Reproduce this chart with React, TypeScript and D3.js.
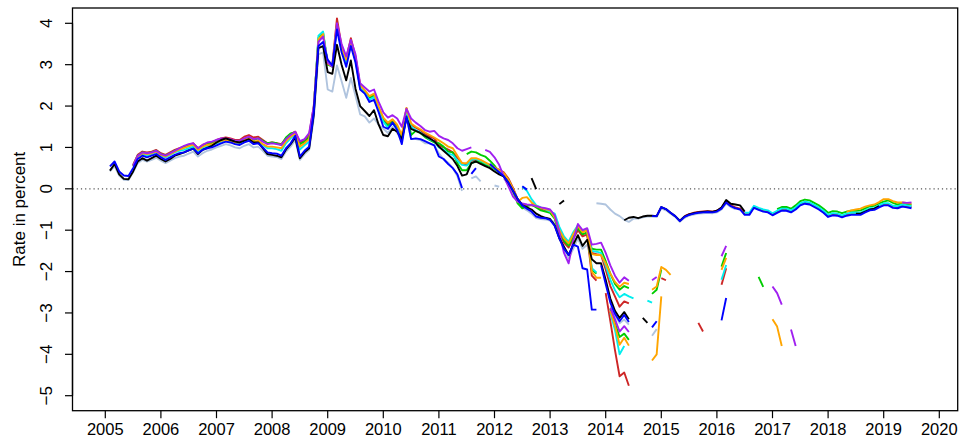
import React from "react";
import * as d3 from "d3";

type Seg = [string, number[]];

const yearTicks = d3.range(2005, 2021);
const rateTicks = [-5, -4, -3, -2, -1, 0, 1, 2, 3, 4];
const yTitle = "Rate in percent";

const blackSegs: Seg[] = [
  ["2005-02", [
    0.44,0.60,0.35,0.24,0.23,0.42,0.66,0.74,0.68,0.74,0.80,
    0.72,0.66,0.72,0.80,0.84,0.88,0.93,0.97,0.84,0.94,0.99,1.04,
    1.12,1.18,1.22,1.18,1.14,1.12,1.16,1.20,1.12,1.12,0.98,0.84,
    0.82,0.80,0.76,0.95,1.08,1.24,0.74,0.88,0.98,1.80,3.40,3.45,
    2.82,2.78,3.48,3.00,2.62,3.10,2.42,2.00,1.88,1.76,1.90,1.55,
    1.30,1.27,1.45,1.38,1.20,1.70,1.45,1.40,1.35,1.28,1.22,1.15,
    1.02,0.92,0.82,0.72,0.55,0.32,0.35,0.62,0.66,0.60,0.55,0.50,
    0.42,0.35,0.30,0.15,-0.05,-0.25,-0.40,-0.45,-0.50,-0.60,-0.66,-0.70,
    -0.73,-0.88,-1.20,-1.40,-1.60,-1.35,-1.12,-1.38,-1.23,-1.70,-1.80,-1.80,
    -2.20,-2.65,-2.95,-3.12,-2.98,-3.15]],
  ["2012-09", [0.26, -0.01]],
  ["2013-03", [-0.37, -0.28]],
  ["2014-09", [-3.12, -3.24]],
  ["2014-05", [
    -0.76,-0.70,-0.68,-0.71,-0.67,-0.65,-0.65,-0.66,
    -0.44,-0.49,-0.58,-0.66,-0.77,-0.67,-0.62,-0.59,-0.57,-0.56,-0.55,-0.56,
    -0.53,-0.45,-0.27,-0.36,-0.38,-0.40,-0.55]],
  ["2018-07", [-0.60,-0.60,-0.55,-0.50,-0.48,-0.42]],
];

const blueSegs: Seg[] = [
  ["2005-02", [
    0.54,0.66,0.42,0.32,0.31,0.50,0.72,0.80,0.76,0.80,0.84,
    0.76,0.70,0.76,0.82,0.86,0.88,0.93,0.97,0.86,0.94,0.98,1.00,
    1.05,1.10,1.14,1.12,1.08,1.06,1.12,1.16,1.08,1.10,1.00,0.88,
    0.86,0.85,0.80,0.98,1.10,1.28,0.78,0.92,1.02,1.85,3.45,3.55,
    3.12,2.98,3.85,3.30,2.95,3.45,3.05,2.40,2.30,2.10,2.15,1.85,
    1.50,1.45,1.60,1.42,1.08,1.75,1.20,1.22,1.20,1.15,1.10,1.05,
    0.78,0.72,0.60,0.50,0.35,0.02]],
  ["2011-08", [0.36, 0.50]],
  ["2011-12", [
    0.60,0.50,0.40,0.30,0.15,-0.05,-0.25,-0.40,-0.48,-0.55,-0.67,-0.70,
    -0.71,-0.75,-0.90,-1.20,-1.45,-1.60,-1.35,-1.40,-1.92,-1.95,-2.92,-2.92]],
  ["2012-07", [0.06, -0.02]],
  ["2013-12", [-1.85,-2.30,-2.75,-3.02,-3.20,-3.05,-3.22]],
  ["2014-11", [-3.35, -3.20]],
  ["2016-02", [-3.18, -2.64]],
  ["2014-11", [
    -0.66,-0.66,
    -0.44,-0.49,-0.58,-0.66,-0.78,-0.68,-0.63,-0.60,-0.58,-0.57,-0.56,-0.57,
    -0.55,-0.48,-0.33,-0.42,-0.47,-0.50,-0.63,-0.63,-0.46,-0.51,-0.55,-0.57,
    -0.64,-0.58,-0.53,-0.53,-0.57,-0.50,-0.40,-0.36,-0.38,-0.44,-0.50,-0.58,
    -0.68,-0.64,-0.65,-0.69,-0.65,-0.63,-0.63,-0.63,-0.57,-0.52,-0.51,-0.45,
    -0.40,-0.40,-0.46,-0.47,-0.43,-0.45,-0.47]],
];

const steelSegs: Seg[] = [
  ["2005-02", [
    0.42,0.55,0.32,0.22,0.21,0.40,0.62,0.70,0.66,0.70,0.75,
    0.68,0.62,0.68,0.74,0.78,0.80,0.85,0.90,0.78,0.86,0.92,0.95,
    1.00,1.04,1.08,1.05,1.00,0.98,1.04,1.08,1.00,1.02,0.92,0.80,
    0.78,0.77,0.72,0.90,1.02,1.18,0.70,0.84,0.94,1.70,3.25,3.30,
    2.40,2.35,2.98,2.60,2.20,2.68,2.25,1.80,1.75,1.60,1.70,1.55,
    1.45,1.35,1.50,1.35,1.15,1.75,1.20,1.20,1.18,1.10,1.10,1.05,
    0.86,0.72,0.63,0.50,0.30,-0.05]],
  ["2011-08", [0.25, 0.30, 0.18]],
  ["2012-01", [0.08, 0.05]],
  ["2012-03", [
    0.25,0.10,-0.10,-0.30,-0.45,-0.52,-0.60,-0.71,-0.73,-0.74,
    -0.77,-0.80,-1.15,-1.45,-1.68,-1.45,-1.20,-1.45,-1.35,-1.75]],
  ["2014-02", [-2.84,-3.05,-3.25,-3.16,-3.28]],
  ["2014-11", [-3.55, -3.39]],
  ["2013-11", [
    -0.35,-0.36,-0.38,-0.50,-0.60,-0.66,-0.75,-0.80,
    -0.72,-0.72,-0.69,-0.67,-0.67,-0.68,
    -0.47,-0.52,-0.60,-0.68,-0.80,-0.70,-0.65,-0.62,-0.60,-0.59,-0.58,-0.59,
    -0.57,-0.50,-0.36,-0.44,-0.49]],
];

const redSegs: Seg[] = [
  ["2005-07", [
    0.58,0.82,0.90,0.88,0.90,0.94,
    0.86,0.82,0.88,0.94,0.98,1.02,1.06,1.10,0.98,1.06,1.10,1.12,
    1.18,1.22,1.24,1.22,1.18,1.18,1.26,1.30,1.24,1.26,1.18,1.10,
    1.12,1.10,1.08,1.22,1.32,1.38,1.12,1.18,1.30,2.00,3.60,3.72,
    3.05,3.00,4.12,3.45,3.15,3.64,3.20,2.50,2.36,2.22,2.28,1.96,
    1.70,1.58,1.66,1.48,1.25,1.95,1.55,1.48,1.42,1.32,1.27,1.22,
    1.05,1.00,0.95,0.88,0.75,0.62,0.58,0.68,0.70,0.68,0.62,0.58,
    0.52,0.46,0.40,0.25,0.02,-0.25,-0.38,-0.40,-0.40,-0.42,-0.48,-0.52,
    -0.55,-0.70,-1.05,-1.30,-1.42,-1.20,-1.00,-1.15,-1.10,-1.55,-1.58,-1.60,
    -1.95,-2.35,-2.60,-2.85,-2.72,-2.77]],
  ["2013-09", [-1.10, -2.10, -2.22]],
  ["2014-01", [-2.52,-3.20,-3.90,-4.53,-4.44,-4.76]],
  ["2015-01", [-2.16, -2.21]],
  ["2015-09", [-3.24, -3.45]],
  ["2016-02", [-2.32, -1.92]],
  ["2015-06", [
    -0.66,-0.61,-0.58,-0.56,-0.55,-0.54,-0.55,
    -0.53,-0.46,-0.30,-0.40,-0.45,-0.48,-0.61,-0.61,-0.44,-0.49,-0.53,-0.55,
    -0.62,-0.56,-0.51,-0.51,-0.55,-0.48,-0.38,-0.34,-0.36,-0.42,-0.48,-0.56,
    -0.66,-0.62,-0.63,-0.66,-0.62,-0.60,-0.60,-0.60,-0.54,-0.49,-0.48,-0.42,
    -0.37,-0.37,-0.43,-0.44,-0.40,-0.42,-0.44]],
];

const greenSegs: Seg[] = [
  ["2005-07", [
    0.56,0.80,0.88,0.86,0.88,0.92,
    0.84,0.80,0.86,0.92,0.96,1.00,1.04,1.08,0.96,1.04,1.08,1.10,
    1.14,1.18,1.20,1.18,1.14,1.14,1.20,1.24,1.18,1.22,1.16,1.10,
    1.12,1.10,1.06,1.24,1.34,1.36,1.08,1.14,1.24,1.95,3.65,3.78,
    3.00,2.95,3.95,3.40,3.10,3.55,3.15,2.45,2.35,2.20,2.25,1.90,
    1.65,1.52,1.62,1.45,1.20,1.90,1.30,1.40,1.35,1.25,1.18,1.12,
    1.10,1.02,0.90,0.88,0.62,0.45,0.45,0.62,0.66,0.64,0.58,0.55,
    0.48,0.40,0.33,0.18,-0.05,-0.35,-0.47,-0.42,-0.38,-0.45,-0.52,-0.55,
    -0.58,-0.72,-1.03,-1.25,-1.37,-1.15,-0.95,-1.10,-1.05,-1.45,-1.47,-1.47,
    -1.75,-2.05,-2.30,-2.44,-2.35,-2.40]],
  ["2011-07", [0.84,0.90,0.88,0.82,0.78,0.68,0.56,0.40,0.30]],
  ["2013-09", [-1.05, -1.95, -2.05]],
  ["2014-02", [-2.90,-3.25,-3.58,-3.50,-3.65]],
  ["2014-11", [-2.54, -2.44, -1.95]],
  ["2016-02", [-1.88, -1.55]],
  ["2016-10", [-2.13, -2.37]],
  ["2017-02", [
    -0.49,-0.44,-0.44,-0.48,-0.40,-0.30,-0.26,-0.28,-0.34,-0.40,-0.48,
    -0.58,-0.54,-0.55,-0.59,-0.55,-0.53,-0.53,-0.52,-0.47,-0.42,-0.41,-0.35,
    -0.31,-0.28,-0.34,-0.38,-0.35,-0.37,-0.39]],
];

const cyanSegs: Seg[] = [
  ["2005-07", [
    0.54,0.76,0.84,0.80,0.84,0.88,
    0.80,0.76,0.82,0.88,0.92,0.94,0.98,1.02,0.90,0.98,1.02,1.06,
    1.10,1.14,1.18,1.14,1.10,1.10,1.16,1.20,1.12,1.14,1.06,0.98,
    0.98,0.96,0.92,1.10,1.22,1.32,0.95,1.05,1.14,1.95,3.70,3.80,
    3.05,2.98,3.92,3.35,3.05,3.50,3.10,2.45,2.32,2.15,2.22,1.88,
    1.62,1.48,1.58,1.45,1.15,1.90,1.50,1.42,1.36,1.28,1.20,1.15,
    1.00,0.95,0.85,0.82,0.68,0.58,0.56,0.70,0.72,0.68,0.62,0.57,
    0.50,0.43,0.36,0.20,-0.02,-0.27]],
  ["2012-07", [
    0.05,-0.05,-0.25,-0.40,-0.45,-0.50,-0.55,-0.60,-0.92,-1.15,-1.28,-1.05,
    -0.88,-1.02,-0.98,-1.50,-1.52,-1.55,-1.85,-2.20,-2.45,-2.62,-2.54,-2.60,-2.65]],
  ["2013-09", [-0.98, -1.92, -2.02]],
  ["2014-02", [-3.00, -3.41, -4.00, -3.80]],
  ["2014-10", [-2.70, -2.75]],
  ["2016-02", [-2.20, -1.84]],
  ["2016-07", [
    -0.58,-0.58,-0.41,-0.46,-0.50,-0.52,
    -0.59,-0.53,-0.48,-0.48,-0.52,-0.45,-0.35,-0.31,-0.33,-0.39,-0.45,-0.53,
    -0.63,-0.59,-0.60,-0.64,-0.60,-0.58,-0.58,-0.58,-0.52,-0.47,-0.46,-0.40,
    -0.35,-0.35,-0.41,-0.42,-0.38,-0.40,-0.42]],
];

const orangeSegs: Seg[] = [
  ["2005-07", [
    0.55,0.78,0.86,0.84,0.86,0.90,
    0.82,0.78,0.84,0.90,0.95,0.99,1.03,1.07,0.94,1.02,1.06,1.08,
    1.12,1.16,1.18,1.16,1.12,1.12,1.18,1.22,1.14,1.16,1.08,1.02,
    1.02,1.00,0.98,1.15,1.26,1.33,1.02,1.10,1.20,1.95,3.62,3.74,
    3.02,2.97,3.98,3.42,3.12,3.58,3.18,2.50,2.38,2.24,2.30,1.98,
    1.72,1.60,1.68,1.55,1.30,1.95,1.58,1.50,1.44,1.36,1.30,1.24,
    1.17,1.10,1.02,0.98,0.80,0.62,0.62,0.74,0.74,0.70,0.64,0.58,
    0.52,0.45,0.38,0.22,0.00,-0.31,-0.22,-0.20,-0.33,-0.42,-0.46,-0.49,
    -0.52,-0.70,-1.00,-1.20,-1.32,-1.10,-0.90,-1.05,-1.00,-1.58,-1.60,-1.60,
    -1.80,-2.05,-2.25,-2.37,-2.27,-2.30]],
  ["2013-09", [-1.00, -2.00, -2.15, -2.15]],
  ["2014-02", [-2.95,-3.30,-3.77,-3.60,-3.79]],
  ["2014-11", [-2.44,-2.36,-1.89,-1.96,-2.08]],
  ["2014-11", [-4.15, -4.00, -2.60]],
  ["2016-02", [-1.96, -1.67]],
  ["2017-01", [-3.15, -3.33, -3.80]],
  ["2018-05", [
    -0.55,-0.52,-0.50,-0.48,-0.43,-0.40,-0.38,-0.32,
    -0.25,-0.25,-0.30,-0.33,-0.33,-0.34,-0.36]],
];

const purpleSegs: Seg[] = [
  ["2005-07", [
    0.56,0.80,0.88,0.86,0.88,0.92,
    0.84,0.80,0.86,0.92,0.98,1.04,1.08,1.10,0.98,1.06,1.12,1.14,
    1.18,1.22,1.22,1.20,1.16,1.16,1.22,1.26,1.20,1.22,1.14,1.08,
    1.10,1.08,1.06,1.20,1.30,1.38,1.15,1.20,1.35,2.00,3.55,3.68,
    3.05,2.95,4.00,3.50,3.20,3.60,3.25,2.55,2.45,2.35,2.40,2.10,
    1.85,1.72,1.78,1.70,1.50,1.93,1.70,1.60,1.52,1.42,1.38,1.40,
    1.28,1.22,1.18,1.10,0.98,0.92,0.96,1.00]],
  ["2011-11", [
    0.94,0.89,0.76,0.58,0.30,0.06,-0.19,-0.31,-0.35,-0.38,-0.39,-0.42,
    -0.45,-0.47,-0.50,-0.64,-1.05,-1.55,-1.80,-1.25,-0.85,-1.00,-0.95,-1.35,
    -1.33,-1.30,-1.55,-1.85,-2.10,-2.27,-2.14,-2.22]],
  ["2014-02", [-2.88,-3.15,-3.45,-3.32,-3.46]],
  ["2014-11", [-2.21, -2.13]],
  ["2016-02", [-1.63, -1.38]],
  ["2017-01", [-2.36, -2.52, -2.80]],
  ["2017-05", [-3.40, -3.80]],
  ["2019-05", [-0.33, -0.34, -0.33]],
];

const seriesList = [
  { name: "lightsteelblue", color: "#B0C4DE", segs: steelSegs },
  { name: "red", color: "#CD2626", segs: redSegs },
  { name: "green", color: "#00CD00", segs: greenSegs },
  { name: "cyan", color: "#00EEEE", segs: cyanSegs },
  { name: "orange", color: "#FFA500", segs: orangeSegs },
  { name: "purple", color: "#A020F0", segs: purpleSegs },
  { name: "black", color: "#000000", segs: blackSegs },
  { name: "blue", color: "#0000FF", segs: blueSegs },
];

function monthToYear(s: string): number {
  const [yy, mm] = s.split("-").map(Number);
  return yy + (mm - 1) / 12;
}

const W = 959;
const H = 439;
const frame = { left: 72.5, right: 957.7, top: 8, bottom: 410.7 };
const FONT = "'Liberation Sans', Arial, Helvetica, sans-serif";

export default function App() {
  const x = d3.scaleLinear().domain([2005, 2020]).range([105.3, 939.3]);
  const y = d3.scaleLinear().domain([-5, 4]).range([395.7, 23.3]);
  const line = d3
    .line<[number, number]>()
    .x((d) => x(d[0]))
    .y((d) => y(d[1]));

  const fmt = (v: number) => (v < 0 ? "\u2212" + Math.abs(v) : String(v));

  return (
    <svg
      width={W}
      height={H}
      style={{ position: "absolute", left: 0, top: 0, background: "#fff" }}
      fontFamily={FONT}
    >
      <defs>
        <clipPath id="plotclip">
          <rect
            x={frame.left}
            y={frame.top}
            width={frame.right - frame.left}
            height={frame.bottom - frame.top}
          />
        </clipPath>
      </defs>
      <rect x={0} y={0} width={W} height={H} fill="#fff" />
      <line
        x1={frame.left}
        x2={frame.right}
        y1={y(0)}
        y2={y(0)}
        stroke="#555"
        strokeWidth={1.2}
        strokeDasharray="1.2,3"
      />
      <g clipPath="url(#plotclip)" fill="none" strokeLinejoin="round" strokeLinecap="butt">
        {seriesList.map((s) =>
          s.segs.map((seg, k) => {
            const t0 = monthToYear(seg[0]);
            const pts: [number, number][] = seg[1].map((v, j) => [t0 + j / 12, v]);
            return (
              <path
                key={s.name + k}
                d={line(pts) || ""}
                stroke={s.color}
                strokeWidth={1.9}
              />
            );
          })
        )}
      </g>
      <rect
        x={frame.left}
        y={frame.top}
        width={frame.right - frame.left}
        height={frame.bottom - frame.top}
        fill="none"
        stroke="#000"
        strokeWidth={1.3}
      />
      <g>
        <line x1={frame.left} x2={frame.left} y1={y(-5)} y2={y(4)} stroke="#000" strokeWidth={1.3} />
        {rateTicks.map((v) => (
          <g key={"yt" + v}>
            <line x1={frame.left - 7.5} x2={frame.left} y1={y(v)} y2={y(v)} stroke="#000" strokeWidth={1.2} />
            <text
              transform={`translate(52,${y(v)}) rotate(-90)`}
              textAnchor="middle"
              fontSize={17}
              fill="#000"
            >
              {fmt(v)}
            </text>
          </g>
        ))}
      </g>
      <g>
        {yearTicks.map((yr) => (
          <g key={"xt" + yr}>
            <line x1={x(yr)} x2={x(yr)} y1={frame.bottom} y2={frame.bottom + 7.5} stroke="#000" strokeWidth={1.2} />
            <text x={x(yr)} y={434.5} textAnchor="middle" fontSize={16.5} fill="#000">
              {yr}
            </text>
          </g>
        ))}
      </g>
      <text
        transform={`translate(24.5,${(frame.top + frame.bottom) / 2}) rotate(-90)`}
        textAnchor="middle"
        fontSize={17}
        fill="#000"
      >
        {yTitle}
      </text>
    </svg>
  );
}
